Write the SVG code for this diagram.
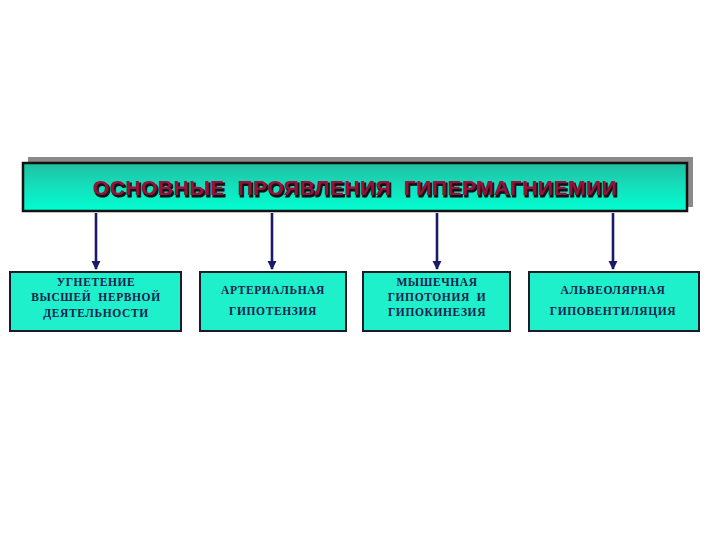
<svg xmlns="http://www.w3.org/2000/svg" width="720" height="540" viewBox="0 0 720 540" xml:space="preserve">
<defs>
<linearGradient id="tg" x1="0" y1="0" x2="0" y2="1">
<stop offset="0" stop-color="#1fbfa0"/>
<stop offset="0.5" stop-color="#14e0bc"/>
<stop offset="1" stop-color="#00ffd2"/>
</linearGradient>
<marker id="ah" viewBox="0 0 10 10" refX="9" refY="5" markerWidth="3.6" markerHeight="3.6" orient="auto">
<path d="M0,0 L10,5 L0,10 z" fill="#1a1a66"/>
</marker>
</defs>
<style>
text{white-space:pre}
.box{fill:#1ef0cc;stroke:#1a1a2a;stroke-width:2}
.bt{font-family:"Liberation Serif",serif;font-weight:bold;font-size:11.5px;fill:#16204a;text-anchor:middle;letter-spacing:0.6px}
.conn line{stroke:#1a1a66;stroke-width:2.6;marker-end:url(#ah)}
.title{font-family:"Liberation Sans",Arial,sans-serif;font-weight:bold;font-size:21px;text-anchor:middle;letter-spacing:0.5px}
</style>
<rect width="720" height="540" fill="#ffffff"/>
<g id="title">
<rect x="28" y="157" width="665" height="50" fill="#8a8a8a"/>
<rect x="23" y="163" width="664" height="48" fill="url(#tg)" stroke="#111111" stroke-width="2.5"/>
<text x="356.5" y="196.5" class="title" fill="#111111" stroke="#111111" stroke-width="1.2">ОСНОВНЫЕ  ПРОЯВЛЕНИЯ  ГИПЕРМАГНИЕМИИ</text>
<text x="355" y="195" class="title" fill="#99103c">ОСНОВНЫЕ  ПРОЯВЛЕНИЯ  ГИПЕРМАГНИЕМИИ</text>
</g>
<g class="conn">
<line x1="96" y1="213" x2="96" y2="269"/>
<line x1="272" y1="213" x2="272" y2="269"/>
<line x1="437" y1="213" x2="437" y2="269"/>
<line x1="613" y1="213" x2="613" y2="269"/>
</g>
<g id="n1">
<rect x="10" y="272" width="171" height="59" class="box"/>
<text class="bt" x="96" y="286">УГНЕТЕНИЕ</text>
<text class="bt" x="96" y="301">ВЫСШЕЙ  НЕРВНОЙ</text>
<text class="bt" x="96" y="317">ДЕЯТЕЛЬНОСТИ</text>
</g>
<g id="n2">
<rect x="200" y="272" width="146" height="59" class="box"/>
<text class="bt" x="273" y="294">АРТЕРИАЛЬНАЯ</text>
<text class="bt" x="273" y="315">ГИПОТЕНЗИЯ</text>
</g>
<g id="n3">
<rect x="363" y="272" width="147" height="59" class="box"/>
<text class="bt" x="437" y="286">МЫШЕЧНАЯ</text>
<text class="bt" x="437" y="301">ГИПОТОНИЯ  И</text>
<text class="bt" x="437" y="316">ГИПОКИНЕЗИЯ</text>
</g>
<g id="n4">
<rect x="529" y="272" width="170" height="59" class="box"/>
<text class="bt" x="613" y="294">АЛЬВЕОЛЯРНАЯ</text>
<text class="bt" x="613" y="315">ГИПОВЕНТИЛЯЦИЯ</text>
</g>
</svg>
